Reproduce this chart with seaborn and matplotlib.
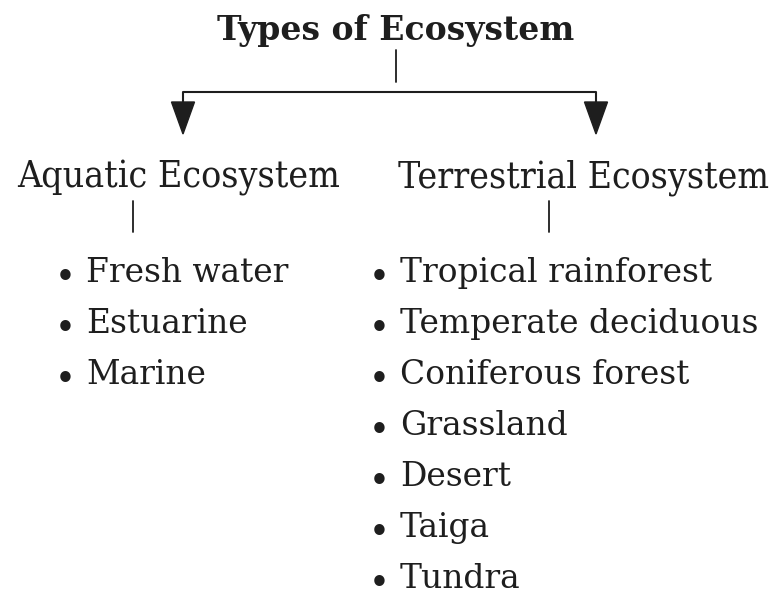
import matplotlib
matplotlib.use("Agg")
import matplotlib.pyplot as plt
import seaborn as sns
from matplotlib.patches import Polygon

sns.set_theme(style="white")
plt.rcParams['font.family'] = ['DejaVu Serif']

title = "Types of Ecosystem"
branches = ["Aquatic Ecosystem", "Terrestrial Ecosystem"]
aquatic_items = ["Fresh water", "Estuarine", "Marine"]
terrestrial_items = ["Tropical rainforest", "Temperate deciduous", "Coniferous forest",
                     "Grassland", "Desert", "Taiga", "Tundra"]

W, H = 775, 598
fig = plt.figure(figsize=(W / 100, H / 100), dpi=100)
ax = fig.add_axes([0, 0, 1, 1])
ax.set_xlim(0, W)
ax.set_ylim(H, 0)
ax.axis("off")
fig.patch.set_facecolor("white")
renderer = fig.canvas.get_renderer()


def fit(t, target):
    t.set_fontsize(20)
    w = t.get_window_extent(renderer).width
    t.set_fontsize(20 * target / w)
    return t


col = "#1e1e1e"
fit(ax.text(396, 40, title, ha="center", va="baseline", fontweight="bold", color=col), 356)
# connectors
ax.plot([396, 396], [50, 82], color=col, lw=1.3)
ax.plot([183, 596, 596], [92, 92, 102], color=col, lw=1.5, solid_capstyle="butt")
ax.plot([183, 183], [92, 102], color=col, lw=1.5)
for x in (183, 596):
    ax.add_patch(Polygon([[x - 11.5, 102], [x + 11.5, 102], [x, 134]], closed=True,
                         facecolor=col, edgecolor=col))

fit(ax.text(179, 187, branches[0], ha="center", va="baseline", color=col,
            fontstretch="condensed"), 322)
fit(ax.text(583, 187, branches[1], ha="center", va="baseline", color=col,
            fontstretch="condensed"), 370)
ax.plot([133, 133], [201, 232], color=col, lw=1.3)
ax.plot([549, 549], [201, 232], color=col, lw=1.3)

base0, step = 282, 51
ref = ax.text(400, base0, terrestrial_items[1], ha="left", va="baseline", color=col)
fit(ref, 357)
fs = ref.get_fontsize()
ref.remove()
for i, item in enumerate(aquatic_items):
    y = base0 + i * step
    ax.text(65, y + 3, "•", ha="center", va="baseline", fontsize=fs * 0.9,
            fontweight="bold", color=col)
    ax.text(86, y, item, ha="left", va="baseline", fontsize=fs, color=col)
for i, item in enumerate(terrestrial_items):
    y = base0 + i * step
    ax.text(379, y + 3, "•", ha="center", va="baseline", fontsize=fs * 0.9,
            fontweight="bold", color=col)
    ax.text(400, y, item, ha="left", va="baseline", fontsize=fs, color=col)

fig.savefig("out.png", dpi=100, facecolor="white")
